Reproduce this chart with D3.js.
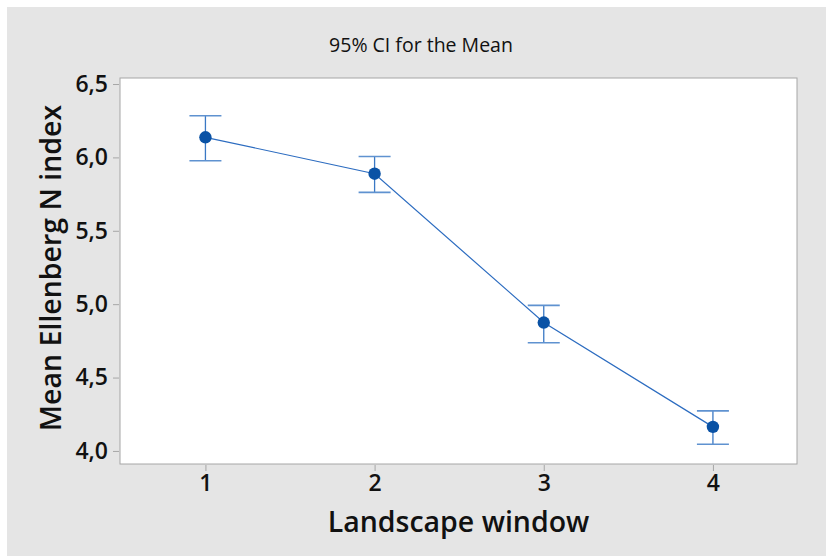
<!DOCTYPE html>
<html>
<head>
<meta charset="utf-8">
<script src="https://cdn.jsdelivr.net/npm/d3@7"></script>
<style>
  html, body { margin: 0; padding: 0; background: #fff; }
  svg text { font-family: "Open Sans", "Noto Sans", sans-serif; }
</style>
</head>
<body>
<div id="chart"></div>
<script>
// data
const windows = [1, 2, 3, 4];
const means = [6.137, 5.889, 4.875, 4.164];
const ciLow = [5.977, 5.762, 4.737, 4.046];
const ciHigh = [6.284, 6.006, 4.992, 4.273];
const yTicks = [4.0, 4.5, 5.0, 5.5, 6.0, 6.5];

const W = 826, H = 556;
const margin = {top: 78, right: 29, bottom: 92, left: 120};
const width = W - margin.left - margin.right;
const height = H - margin.top - margin.bottom;

const svg = d3.select("#chart").append("svg")
    .attr("width", W)
    .attr("height", H);

// grey figure background
svg.append("rect")
    .attr("x", 7).attr("y", 7)
    .attr("width", W - 7).attr("height", H - 7)
    .attr("fill", "#e5e5e5");

svg.append("text")
    .attr("x", 421).attr("y", 52)
    .attr("text-anchor", "middle")
    .attr("font-size", 19.5)
    .attr("fill", "#111")
    .text("95% CI for the Mean");

const g = svg.append("g")
    .attr("transform", "translate(" + margin.left + "," + margin.top + ")");

g.append("rect")
    .attr("width", width).attr("height", height)
    .attr("fill", "#fff")
    .attr("stroke", "#a6a6a6");

// scales
const x = d3.scaleLinear()
    .domain([0.495, 4.497])
    .range([0, width]);

const y = d3.scaleLinear()
    .domain([3.911, 6.541])
    .range([height, 0]);

const fmt = d3.format(".1f");

const yAxis = d3.axisLeft(y)
    .tickValues(yTicks)
    .tickSize(6)
    .tickPadding(5)
    .tickFormat(d => fmt(d).replace(".", ","));

const xAxis = d3.axisBottom(x)
    .tickValues(windows)
    .tickSize(6)
    .tickPadding(4)
    .tickFormat(d3.format("d"));

const yAxisGroup = g.append("g")
    .attr("transform", "translate(-1,0)")
    .call(yAxis);

const xAxisGroup = g.append("g")
    .attr("transform", "translate(0," + (height + 1) + ")")
    .call(xAxis);

[yAxisGroup, xAxisGroup].forEach(ax => {
    ax.select(".domain").remove();
    ax.selectAll(".tick line").attr("stroke", "#a6a6a6");
    ax.selectAll(".tick text")
        .attr("font-size", 23)
        .attr("font-weight", 600)
        .attr("font-family", "'Open Sans', sans-serif")
        .attr("fill", "#111");
});

// axis titles
svg.append("text")
    .attr("x", margin.left + width / 2).attr("y", 532)
    .attr("text-anchor", "middle")
    .attr("font-size", 28.5)
    .attr("font-weight", 600)
    .attr("fill", "#111")
    .text("Landscape window");

svg.append("text")
    .attr("transform", "translate(61," + 268 + ") rotate(-90)")
    .attr("text-anchor", "middle")
    .attr("font-size", 28.5)
    .attr("font-weight", 600)
    .attr("fill", "#111")
    .text("Mean Ellenberg N index");

// connecting line
const valueline = d3.line()
    .x((d, i) => x(windows[i]))
    .y(d => y(d));

g.append("path")
    .datum(means)
    .attr("d", valueline)
    .attr("fill", "none")
    .attr("stroke", "#2c6cc0")
    .attr("stroke-width", 1.2);

// error bars
const capHalf = 16;
const bars = g.selectAll(".ci")
    .data(windows)
    .enter().append("g")
    .attr("class", "ci");

bars.append("line")
    .attr("x1", d => x(d)).attr("x2", d => x(d))
    .attr("y1", (d, i) => y(ciLow[i]))
    .attr("y2", (d, i) => y(ciHigh[i]))
    .attr("stroke", "#3a78c4")
    .attr("stroke-width", 1.3);

bars.append("line")
    .attr("x1", d => x(d) - capHalf).attr("x2", d => x(d) + capHalf)
    .attr("y1", (d, i) => y(ciHigh[i]))
    .attr("y2", (d, i) => y(ciHigh[i]))
    .attr("stroke", "#5f92d0")
    .attr("stroke-width", 1.6);

bars.append("line")
    .attr("x1", d => x(d) - capHalf).attr("x2", d => x(d) + capHalf)
    .attr("y1", (d, i) => y(ciLow[i]))
    .attr("y2", (d, i) => y(ciLow[i]))
    .attr("stroke", "#5f92d0")
    .attr("stroke-width", 1.6);

// mean markers
g.selectAll(".dot")
    .data(means)
    .enter().append("circle")
    .attr("class", "dot")
    .attr("cx", (d, i) => x(windows[i]))
    .attr("cy", d => y(d))
    .attr("r", 6.2)
    .attr("fill", "#0a52a5");
</script>
</body>
</html>
